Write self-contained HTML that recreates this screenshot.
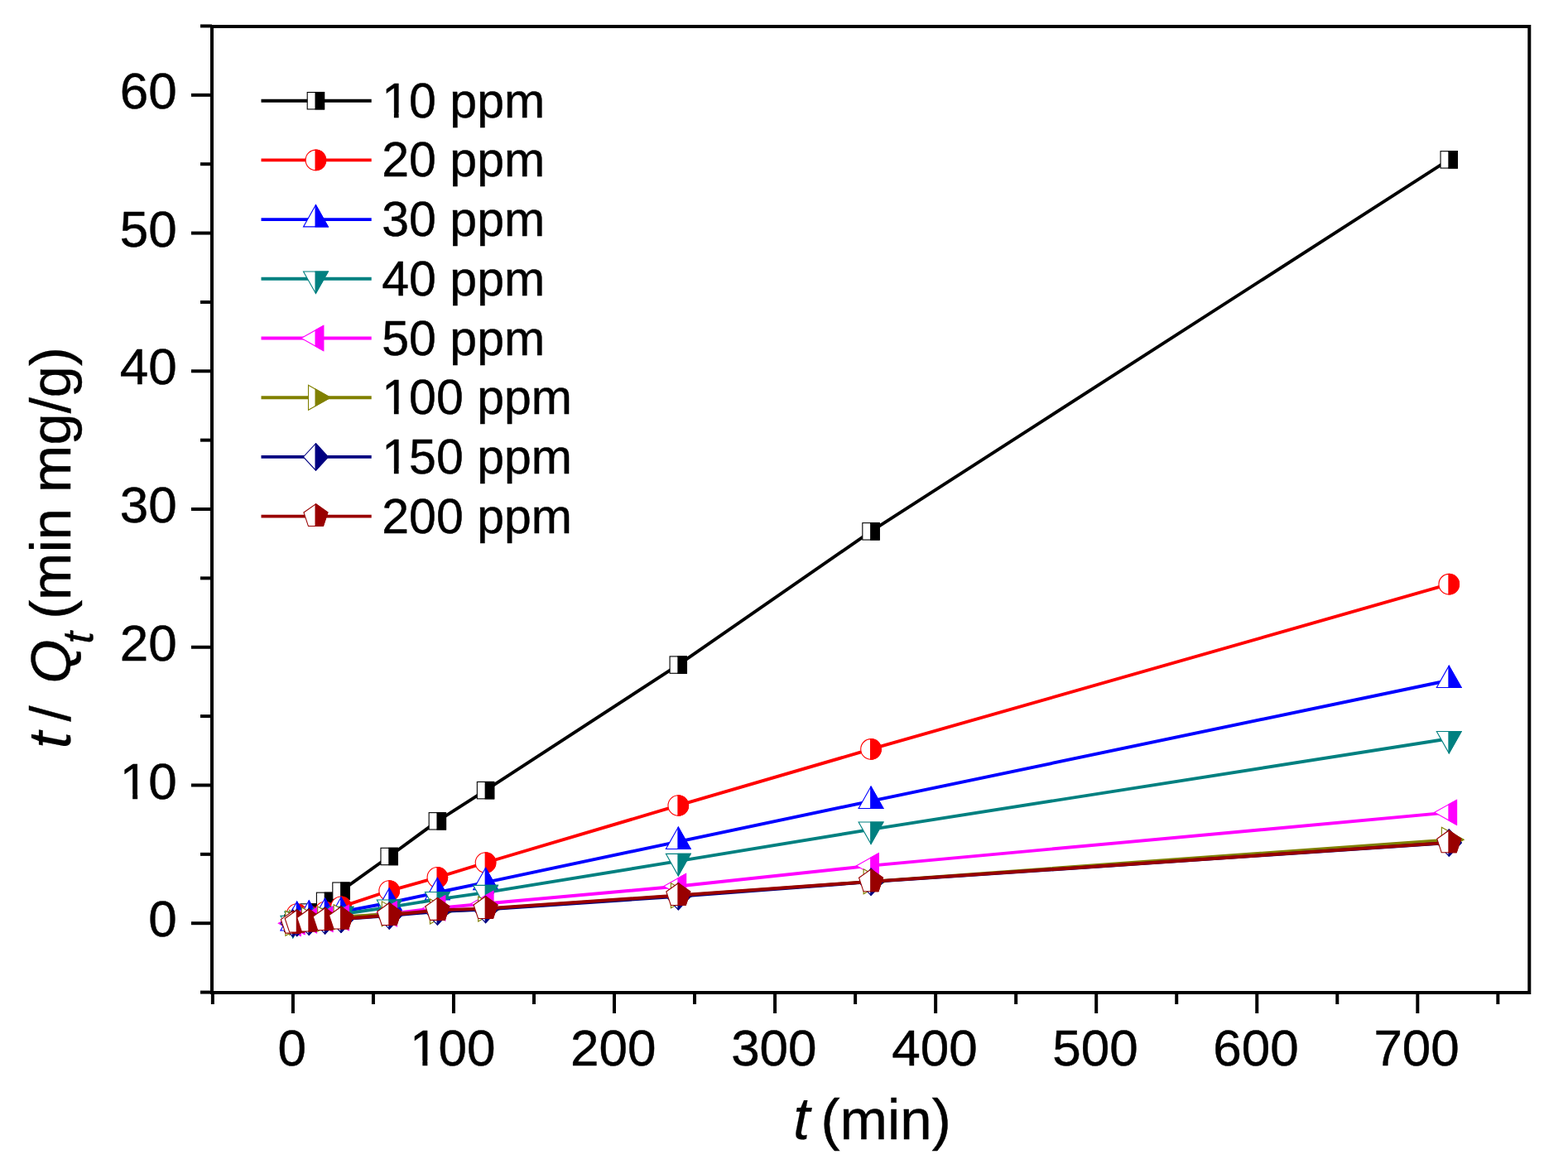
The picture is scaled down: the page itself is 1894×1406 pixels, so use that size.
<!DOCTYPE html><html><head><meta charset="utf-8"><title>t/Qt vs t</title>
<style>html,body{margin:0;padding:0;background:#fff;}svg{display:block;}text{font-family:'Liberation Sans', Arial, Helvetica, sans-serif;fill:#000;stroke:#000;stroke-width:0.45px;}</style></head><body>
<svg width="1894" height="1406" viewBox="0 0 1894 1406">
<rect width="1894" height="1406" fill="#fff"/>
<defs><clipPath id="c0"><rect x="352.9" y="1075.2" width="40" height="80"/></clipPath><clipPath id="c1"><rect x="357.75" y="1069.36" width="40" height="80"/></clipPath><clipPath id="c2"><rect x="372.3" y="1062.03" width="40" height="80"/></clipPath><clipPath id="c3"><rect x="391.69" y="1048.36" width="40" height="80"/></clipPath><clipPath id="c4"><rect x="411.09" y="1036.19" width="40" height="80"/></clipPath><clipPath id="c5"><rect x="469.27" y="994.5" width="40" height="80"/></clipPath><clipPath id="c6"><rect x="527.46" y="951.82" width="40" height="80"/></clipPath><clipPath id="c7"><rect x="585.64" y="914.64" width="40" height="80"/></clipPath><clipPath id="c8"><rect x="818.38" y="763.08" width="40" height="80"/></clipPath><clipPath id="c9"><rect x="1051.12" y="601.85" width="40" height="80"/></clipPath><clipPath id="c10"><rect x="1749.34" y="152.85" width="40" height="80"/></clipPath><clipPath id="c11"><rect x="352.9" y="1075.2" width="40" height="80"/></clipPath><clipPath id="c12"><rect x="357.75" y="1064.03" width="40" height="80"/></clipPath><clipPath id="c13"><rect x="372.3" y="1066.53" width="40" height="80"/></clipPath><clipPath id="c14"><rect x="391.69" y="1061.53" width="40" height="80"/></clipPath><clipPath id="c15"><rect x="411.09" y="1055.36" width="40" height="80"/></clipPath><clipPath id="c16"><rect x="469.27" y="1036.02" width="40" height="80"/></clipPath><clipPath id="c17"><rect x="527.46" y="1019.85" width="40" height="80"/></clipPath><clipPath id="c18"><rect x="585.64" y="1002.01" width="40" height="80"/></clipPath><clipPath id="c19"><rect x="818.38" y="932.98" width="40" height="80"/></clipPath><clipPath id="c20"><rect x="1051.12" y="864.95" width="40" height="80"/></clipPath><clipPath id="c21"><rect x="1749.34" y="665.71" width="40" height="80"/></clipPath><clipPath id="c22"><rect x="352.9" y="1075.2" width="40" height="80"/></clipPath><clipPath id="c23"><rect x="357.75" y="1066.7" width="40" height="80"/></clipPath><clipPath id="c24"><rect x="372.3" y="1065.36" width="40" height="80"/></clipPath><clipPath id="c25"><rect x="391.69" y="1062.7" width="40" height="80"/></clipPath><clipPath id="c26"><rect x="411.09" y="1061.36" width="40" height="80"/></clipPath><clipPath id="c27"><rect x="469.27" y="1050.52" width="40" height="80"/></clipPath><clipPath id="c28"><rect x="527.46" y="1038.02" width="40" height="80"/></clipPath><clipPath id="c29"><rect x="585.64" y="1025.85" width="40" height="80"/></clipPath><clipPath id="c30"><rect x="818.38" y="976.66" width="40" height="80"/></clipPath><clipPath id="c31"><rect x="1051.12" y="927.64" width="40" height="80"/></clipPath><clipPath id="c32"><rect x="1749.34" y="781.76" width="40" height="80"/></clipPath><clipPath id="c33"><rect x="352.9" y="1075.2" width="40" height="80"/></clipPath><clipPath id="c34"><rect x="357.75" y="1070.2" width="40" height="80"/></clipPath><clipPath id="c35"><rect x="372.3" y="1068.53" width="40" height="80"/></clipPath><clipPath id="c36"><rect x="391.69" y="1066.03" width="40" height="80"/></clipPath><clipPath id="c37"><rect x="411.09" y="1064.2" width="40" height="80"/></clipPath><clipPath id="c38"><rect x="469.27" y="1055.86" width="40" height="80"/></clipPath><clipPath id="c39"><rect x="527.46" y="1046.36" width="40" height="80"/></clipPath><clipPath id="c40"><rect x="585.64" y="1038.19" width="40" height="80"/></clipPath><clipPath id="c41"><rect x="818.38" y="1000.17" width="40" height="80"/></clipPath><clipPath id="c42"><rect x="1051.12" y="961.82" width="40" height="80"/></clipPath><clipPath id="c43"><rect x="1749.34" y="852.28" width="40" height="80"/></clipPath><clipPath id="c44"><rect x="352.9" y="1075.2" width="40" height="80"/></clipPath><clipPath id="c45"><rect x="357.75" y="1073.53" width="40" height="80"/></clipPath><clipPath id="c46"><rect x="372.3" y="1071.87" width="40" height="80"/></clipPath><clipPath id="c47"><rect x="391.69" y="1070.2" width="40" height="80"/></clipPath><clipPath id="c48"><rect x="411.09" y="1068.53" width="40" height="80"/></clipPath><clipPath id="c49"><rect x="469.27" y="1063.86" width="40" height="80"/></clipPath><clipPath id="c50"><rect x="527.46" y="1056.86" width="40" height="80"/></clipPath><clipPath id="c51"><rect x="585.64" y="1051.52" width="40" height="80"/></clipPath><clipPath id="c52"><rect x="818.38" y="1030.52" width="40" height="80"/></clipPath><clipPath id="c53"><rect x="1051.12" y="1005.67" width="40" height="80"/></clipPath><clipPath id="c54"><rect x="1749.34" y="941.32" width="40" height="80"/></clipPath><clipPath id="c55"><rect x="352.9" y="1075.2" width="40" height="80"/></clipPath><clipPath id="c56"><rect x="357.75" y="1074.37" width="40" height="80"/></clipPath><clipPath id="c57"><rect x="372.3" y="1071.03" width="40" height="80"/></clipPath><clipPath id="c58"><rect x="391.69" y="1070.03" width="40" height="80"/></clipPath><clipPath id="c59"><rect x="411.09" y="1067.7" width="40" height="80"/></clipPath><clipPath id="c60"><rect x="469.27" y="1063.86" width="40" height="80"/></clipPath><clipPath id="c61"><rect x="527.46" y="1061.03" width="40" height="80"/></clipPath><clipPath id="c62"><rect x="585.64" y="1058.03" width="40" height="80"/></clipPath><clipPath id="c63"><rect x="818.38" y="1041.85" width="40" height="80"/></clipPath><clipPath id="c64"><rect x="1051.12" y="1024.85" width="40" height="80"/></clipPath><clipPath id="c65"><rect x="1749.34" y="974.33" width="40" height="80"/></clipPath><clipPath id="c66"><rect x="352.9" y="1075.2" width="40" height="80"/></clipPath><clipPath id="c67"><rect x="357.75" y="1074.37" width="40" height="80"/></clipPath><clipPath id="c68"><rect x="372.3" y="1073.2" width="40" height="80"/></clipPath><clipPath id="c69"><rect x="391.69" y="1071.87" width="40" height="80"/></clipPath><clipPath id="c70"><rect x="411.09" y="1070.2" width="40" height="80"/></clipPath><clipPath id="c71"><rect x="469.27" y="1066.03" width="40" height="80"/></clipPath><clipPath id="c72"><rect x="527.46" y="1061.03" width="40" height="80"/></clipPath><clipPath id="c73"><rect x="585.64" y="1058.53" width="40" height="80"/></clipPath><clipPath id="c74"><rect x="818.38" y="1042.69" width="40" height="80"/></clipPath><clipPath id="c75"><rect x="1051.12" y="1025.18" width="40" height="80"/></clipPath><clipPath id="c76"><rect x="1749.34" y="978" width="40" height="80"/></clipPath><clipPath id="c77"><rect x="352.9" y="1075.2" width="40" height="80"/></clipPath><clipPath id="c78"><rect x="357.75" y="1074.03" width="40" height="80"/></clipPath><clipPath id="c79"><rect x="372.3" y="1073.03" width="40" height="80"/></clipPath><clipPath id="c80"><rect x="391.69" y="1071.53" width="40" height="80"/></clipPath><clipPath id="c81"><rect x="411.09" y="1070.03" width="40" height="80"/></clipPath><clipPath id="c82"><rect x="469.27" y="1065.53" width="40" height="80"/></clipPath><clipPath id="c83"><rect x="527.46" y="1059.36" width="40" height="80"/></clipPath><clipPath id="c84"><rect x="585.64" y="1057.53" width="40" height="80"/></clipPath><clipPath id="c85"><rect x="818.38" y="1041.52" width="40" height="80"/></clipPath><clipPath id="c86"><rect x="1051.12" y="1024.85" width="40" height="80"/></clipPath><clipPath id="c87"><rect x="1749.34" y="977.83" width="40" height="80"/></clipPath><clipPath id="c88"><rect x="380.5" y="81.7" width="40" height="80"/></clipPath><clipPath id="c89"><rect x="380.5" y="153.4" width="40" height="80"/></clipPath><clipPath id="c90"><rect x="380.5" y="225.1" width="40" height="80"/></clipPath><clipPath id="c91"><rect x="380.5" y="296.8" width="40" height="80"/></clipPath><clipPath id="c92"><rect x="380.5" y="368.5" width="40" height="80"/></clipPath><clipPath id="c93"><rect x="380.5" y="440.2" width="40" height="80"/></clipPath><clipPath id="c94"><rect x="380.5" y="511.9" width="40" height="80"/></clipPath><clipPath id="c95"><rect x="380.5" y="583.6" width="40" height="80"/></clipPath></defs>
<g><polyline fill="none" stroke="#000000" stroke-width="3.9" stroke-linejoin="round" points="353.8,1115.2 358.65,1109.36 373.19,1102.03 392.59,1088.36 411.99,1076.19 470.17,1034.5 528.36,991.82 586.54,954.64 819.28,803.08 1052.02,641.85 1750.24,192.85"/>
<rect x="343.6" y="1105" width="20.4" height="20.4" fill="#fff" stroke="#000000" stroke-width="1.1"/>
<g clip-path="url(#c0)"><rect x="343.6" y="1105" width="20.4" height="20.4" fill="#000000" stroke="#000000" stroke-width="1.1"/></g>
<rect x="348.45" y="1099.16" width="20.4" height="20.4" fill="#fff" stroke="#000000" stroke-width="1.1"/>
<g clip-path="url(#c1)"><rect x="348.45" y="1099.16" width="20.4" height="20.4" fill="#000000" stroke="#000000" stroke-width="1.1"/></g>
<rect x="363" y="1091.83" width="20.4" height="20.4" fill="#fff" stroke="#000000" stroke-width="1.1"/>
<g clip-path="url(#c2)"><rect x="363" y="1091.83" width="20.4" height="20.4" fill="#000000" stroke="#000000" stroke-width="1.1"/></g>
<rect x="382.39" y="1078.16" width="20.4" height="20.4" fill="#fff" stroke="#000000" stroke-width="1.1"/>
<g clip-path="url(#c3)"><rect x="382.39" y="1078.16" width="20.4" height="20.4" fill="#000000" stroke="#000000" stroke-width="1.1"/></g>
<rect x="401.79" y="1065.99" width="20.4" height="20.4" fill="#fff" stroke="#000000" stroke-width="1.1"/>
<g clip-path="url(#c4)"><rect x="401.79" y="1065.99" width="20.4" height="20.4" fill="#000000" stroke="#000000" stroke-width="1.1"/></g>
<rect x="459.97" y="1024.3" width="20.4" height="20.4" fill="#fff" stroke="#000000" stroke-width="1.1"/>
<g clip-path="url(#c5)"><rect x="459.97" y="1024.3" width="20.4" height="20.4" fill="#000000" stroke="#000000" stroke-width="1.1"/></g>
<rect x="518.15" y="981.62" width="20.4" height="20.4" fill="#fff" stroke="#000000" stroke-width="1.1"/>
<g clip-path="url(#c6)"><rect x="518.15" y="981.62" width="20.4" height="20.4" fill="#000000" stroke="#000000" stroke-width="1.1"/></g>
<rect x="576.34" y="944.44" width="20.4" height="20.4" fill="#fff" stroke="#000000" stroke-width="1.1"/>
<g clip-path="url(#c7)"><rect x="576.34" y="944.44" width="20.4" height="20.4" fill="#000000" stroke="#000000" stroke-width="1.1"/></g>
<rect x="809.08" y="792.88" width="20.4" height="20.4" fill="#fff" stroke="#000000" stroke-width="1.1"/>
<g clip-path="url(#c8)"><rect x="809.08" y="792.88" width="20.4" height="20.4" fill="#000000" stroke="#000000" stroke-width="1.1"/></g>
<rect x="1041.82" y="631.65" width="20.4" height="20.4" fill="#fff" stroke="#000000" stroke-width="1.1"/>
<g clip-path="url(#c9)"><rect x="1041.82" y="631.65" width="20.4" height="20.4" fill="#000000" stroke="#000000" stroke-width="1.1"/></g>
<rect x="1740.04" y="182.65" width="20.4" height="20.4" fill="#fff" stroke="#000000" stroke-width="1.1"/>
<g clip-path="url(#c10)"><rect x="1740.04" y="182.65" width="20.4" height="20.4" fill="#000000" stroke="#000000" stroke-width="1.1"/></g>
<polyline fill="none" stroke="#FF0000" stroke-width="3.9" stroke-linejoin="round" points="353.8,1115.2 358.65,1104.03 373.19,1106.53 392.59,1101.53 411.99,1095.36 470.17,1076.02 528.36,1059.85 586.54,1042.01 819.28,972.98 1052.02,904.95 1750.24,705.71"/>
<circle cx="353.8" cy="1115.2" r="12.3" fill="#fff" stroke="#FF0000" stroke-width="1.1"/>
<g clip-path="url(#c11)"><circle cx="353.8" cy="1115.2" r="12.3" fill="#FF0000" stroke="#FF0000" stroke-width="1.1"/></g>
<circle cx="358.65" cy="1104.03" r="12.3" fill="#fff" stroke="#FF0000" stroke-width="1.1"/>
<g clip-path="url(#c12)"><circle cx="358.65" cy="1104.03" r="12.3" fill="#FF0000" stroke="#FF0000" stroke-width="1.1"/></g>
<circle cx="373.19" cy="1106.53" r="12.3" fill="#fff" stroke="#FF0000" stroke-width="1.1"/>
<g clip-path="url(#c13)"><circle cx="373.19" cy="1106.53" r="12.3" fill="#FF0000" stroke="#FF0000" stroke-width="1.1"/></g>
<circle cx="392.59" cy="1101.53" r="12.3" fill="#fff" stroke="#FF0000" stroke-width="1.1"/>
<g clip-path="url(#c14)"><circle cx="392.59" cy="1101.53" r="12.3" fill="#FF0000" stroke="#FF0000" stroke-width="1.1"/></g>
<circle cx="411.99" cy="1095.36" r="12.3" fill="#fff" stroke="#FF0000" stroke-width="1.1"/>
<g clip-path="url(#c15)"><circle cx="411.99" cy="1095.36" r="12.3" fill="#FF0000" stroke="#FF0000" stroke-width="1.1"/></g>
<circle cx="470.17" cy="1076.02" r="12.3" fill="#fff" stroke="#FF0000" stroke-width="1.1"/>
<g clip-path="url(#c16)"><circle cx="470.17" cy="1076.02" r="12.3" fill="#FF0000" stroke="#FF0000" stroke-width="1.1"/></g>
<circle cx="528.36" cy="1059.85" r="12.3" fill="#fff" stroke="#FF0000" stroke-width="1.1"/>
<g clip-path="url(#c17)"><circle cx="528.36" cy="1059.85" r="12.3" fill="#FF0000" stroke="#FF0000" stroke-width="1.1"/></g>
<circle cx="586.54" cy="1042.01" r="12.3" fill="#fff" stroke="#FF0000" stroke-width="1.1"/>
<g clip-path="url(#c18)"><circle cx="586.54" cy="1042.01" r="12.3" fill="#FF0000" stroke="#FF0000" stroke-width="1.1"/></g>
<circle cx="819.28" cy="972.98" r="12.3" fill="#fff" stroke="#FF0000" stroke-width="1.1"/>
<g clip-path="url(#c19)"><circle cx="819.28" cy="972.98" r="12.3" fill="#FF0000" stroke="#FF0000" stroke-width="1.1"/></g>
<circle cx="1052.02" cy="904.95" r="12.3" fill="#fff" stroke="#FF0000" stroke-width="1.1"/>
<g clip-path="url(#c20)"><circle cx="1052.02" cy="904.95" r="12.3" fill="#FF0000" stroke="#FF0000" stroke-width="1.1"/></g>
<circle cx="1750.24" cy="705.71" r="12.3" fill="#fff" stroke="#FF0000" stroke-width="1.1"/>
<g clip-path="url(#c21)"><circle cx="1750.24" cy="705.71" r="12.3" fill="#FF0000" stroke="#FF0000" stroke-width="1.1"/></g>
<polyline fill="none" stroke="#0000FF" stroke-width="3.9" stroke-linejoin="round" points="353.8,1115.2 358.65,1106.7 373.19,1105.36 392.59,1102.7 411.99,1101.36 470.17,1090.52 528.36,1078.02 586.54,1065.85 819.28,1016.66 1052.02,967.64 1750.24,821.76"/>
<polygon points="353.8,1097.6 368.7,1124 338.9,1124" fill="#fff" stroke="#0000FF" stroke-width="1.1"/>
<g clip-path="url(#c22)"><polygon points="353.8,1097.6 368.7,1124 338.9,1124" fill="#0000FF" stroke="#0000FF" stroke-width="1.1"/></g>
<polygon points="358.65,1089.1 373.55,1115.5 343.75,1115.5" fill="#fff" stroke="#0000FF" stroke-width="1.1"/>
<g clip-path="url(#c23)"><polygon points="358.65,1089.1 373.55,1115.5 343.75,1115.5" fill="#0000FF" stroke="#0000FF" stroke-width="1.1"/></g>
<polygon points="373.19,1087.76 388.09,1114.16 358.3,1114.16" fill="#fff" stroke="#0000FF" stroke-width="1.1"/>
<g clip-path="url(#c24)"><polygon points="373.19,1087.76 388.09,1114.16 358.3,1114.16" fill="#0000FF" stroke="#0000FF" stroke-width="1.1"/></g>
<polygon points="392.59,1085.1 407.49,1111.5 377.69,1111.5" fill="#fff" stroke="#0000FF" stroke-width="1.1"/>
<g clip-path="url(#c25)"><polygon points="392.59,1085.1 407.49,1111.5 377.69,1111.5" fill="#0000FF" stroke="#0000FF" stroke-width="1.1"/></g>
<polygon points="411.99,1083.76 426.88,1110.16 397.09,1110.16" fill="#fff" stroke="#0000FF" stroke-width="1.1"/>
<g clip-path="url(#c26)"><polygon points="411.99,1083.76 426.88,1110.16 397.09,1110.16" fill="#0000FF" stroke="#0000FF" stroke-width="1.1"/></g>
<polygon points="470.17,1072.92 485.07,1099.32 455.27,1099.32" fill="#fff" stroke="#0000FF" stroke-width="1.1"/>
<g clip-path="url(#c27)"><polygon points="470.17,1072.92 485.07,1099.32 455.27,1099.32" fill="#0000FF" stroke="#0000FF" stroke-width="1.1"/></g>
<polygon points="528.36,1060.42 543.25,1086.82 513.46,1086.82" fill="#fff" stroke="#0000FF" stroke-width="1.1"/>
<g clip-path="url(#c28)"><polygon points="528.36,1060.42 543.25,1086.82 513.46,1086.82" fill="#0000FF" stroke="#0000FF" stroke-width="1.1"/></g>
<polygon points="586.54,1048.25 601.44,1074.65 571.64,1074.65" fill="#fff" stroke="#0000FF" stroke-width="1.1"/>
<g clip-path="url(#c29)"><polygon points="586.54,1048.25 601.44,1074.65 571.64,1074.65" fill="#0000FF" stroke="#0000FF" stroke-width="1.1"/></g>
<polygon points="819.28,999.06 834.18,1025.46 804.38,1025.46" fill="#fff" stroke="#0000FF" stroke-width="1.1"/>
<g clip-path="url(#c30)"><polygon points="819.28,999.06 834.18,1025.46 804.38,1025.46" fill="#0000FF" stroke="#0000FF" stroke-width="1.1"/></g>
<polygon points="1052.02,950.04 1066.92,976.44 1037.12,976.44" fill="#fff" stroke="#0000FF" stroke-width="1.1"/>
<g clip-path="url(#c31)"><polygon points="1052.02,950.04 1066.92,976.44 1037.12,976.44" fill="#0000FF" stroke="#0000FF" stroke-width="1.1"/></g>
<polygon points="1750.24,804.16 1765.14,830.56 1735.34,830.56" fill="#fff" stroke="#0000FF" stroke-width="1.1"/>
<g clip-path="url(#c32)"><polygon points="1750.24,804.16 1765.14,830.56 1735.34,830.56" fill="#0000FF" stroke="#0000FF" stroke-width="1.1"/></g>
<polyline fill="none" stroke="#008080" stroke-width="3.9" stroke-linejoin="round" points="353.8,1115.2 358.65,1110.2 373.19,1108.53 392.59,1106.03 411.99,1104.2 470.17,1095.86 528.36,1086.36 586.54,1078.19 819.28,1040.17 1052.02,1001.82 1750.24,892.28"/>
<polygon points="338.9,1106.4 368.7,1106.4 353.8,1132.8" fill="#fff" stroke="#008080" stroke-width="1.1"/>
<g clip-path="url(#c33)"><polygon points="338.9,1106.4 368.7,1106.4 353.8,1132.8" fill="#008080" stroke="#008080" stroke-width="1.1"/></g>
<polygon points="343.75,1101.4 373.55,1101.4 358.65,1127.8" fill="#fff" stroke="#008080" stroke-width="1.1"/>
<g clip-path="url(#c34)"><polygon points="343.75,1101.4 373.55,1101.4 358.65,1127.8" fill="#008080" stroke="#008080" stroke-width="1.1"/></g>
<polygon points="358.3,1099.73 388.09,1099.73 373.19,1126.13" fill="#fff" stroke="#008080" stroke-width="1.1"/>
<g clip-path="url(#c35)"><polygon points="358.3,1099.73 388.09,1099.73 373.19,1126.13" fill="#008080" stroke="#008080" stroke-width="1.1"/></g>
<polygon points="377.69,1097.23 407.49,1097.23 392.59,1123.63" fill="#fff" stroke="#008080" stroke-width="1.1"/>
<g clip-path="url(#c36)"><polygon points="377.69,1097.23 407.49,1097.23 392.59,1123.63" fill="#008080" stroke="#008080" stroke-width="1.1"/></g>
<polygon points="397.09,1095.4 426.88,1095.4 411.99,1121.8" fill="#fff" stroke="#008080" stroke-width="1.1"/>
<g clip-path="url(#c37)"><polygon points="397.09,1095.4 426.88,1095.4 411.99,1121.8" fill="#008080" stroke="#008080" stroke-width="1.1"/></g>
<polygon points="455.27,1087.06 485.07,1087.06 470.17,1113.46" fill="#fff" stroke="#008080" stroke-width="1.1"/>
<g clip-path="url(#c38)"><polygon points="455.27,1087.06 485.07,1087.06 470.17,1113.46" fill="#008080" stroke="#008080" stroke-width="1.1"/></g>
<polygon points="513.46,1077.56 543.25,1077.56 528.36,1103.96" fill="#fff" stroke="#008080" stroke-width="1.1"/>
<g clip-path="url(#c39)"><polygon points="513.46,1077.56 543.25,1077.56 528.36,1103.96" fill="#008080" stroke="#008080" stroke-width="1.1"/></g>
<polygon points="571.64,1069.39 601.44,1069.39 586.54,1095.79" fill="#fff" stroke="#008080" stroke-width="1.1"/>
<g clip-path="url(#c40)"><polygon points="571.64,1069.39 601.44,1069.39 586.54,1095.79" fill="#008080" stroke="#008080" stroke-width="1.1"/></g>
<polygon points="804.38,1031.37 834.18,1031.37 819.28,1057.77" fill="#fff" stroke="#008080" stroke-width="1.1"/>
<g clip-path="url(#c41)"><polygon points="804.38,1031.37 834.18,1031.37 819.28,1057.77" fill="#008080" stroke="#008080" stroke-width="1.1"/></g>
<polygon points="1037.12,993.02 1066.92,993.02 1052.02,1019.42" fill="#fff" stroke="#008080" stroke-width="1.1"/>
<g clip-path="url(#c42)"><polygon points="1037.12,993.02 1066.92,993.02 1052.02,1019.42" fill="#008080" stroke="#008080" stroke-width="1.1"/></g>
<polygon points="1735.34,883.48 1765.14,883.48 1750.24,909.88" fill="#fff" stroke="#008080" stroke-width="1.1"/>
<g clip-path="url(#c43)"><polygon points="1735.34,883.48 1765.14,883.48 1750.24,909.88" fill="#008080" stroke="#008080" stroke-width="1.1"/></g>
<polyline fill="none" stroke="#FF00FF" stroke-width="3.9" stroke-linejoin="round" points="353.8,1115.2 358.65,1113.53 373.19,1111.87 392.59,1110.2 411.99,1108.53 470.17,1103.86 528.36,1096.86 586.54,1091.52 819.28,1070.52 1052.02,1045.67 1750.24,981.32"/>
<polygon points="336.3,1115.2 363.1,1100.2 363.1,1130.2" fill="#fff" stroke="#FF00FF" stroke-width="1.1"/>
<g clip-path="url(#c44)"><polygon points="336.3,1115.2 363.1,1100.2 363.1,1130.2" fill="#FF00FF" stroke="#FF00FF" stroke-width="1.1"/></g>
<polygon points="341.15,1113.53 367.95,1098.53 367.95,1128.53" fill="#fff" stroke="#FF00FF" stroke-width="1.1"/>
<g clip-path="url(#c45)"><polygon points="341.15,1113.53 367.95,1098.53 367.95,1128.53" fill="#FF00FF" stroke="#FF00FF" stroke-width="1.1"/></g>
<polygon points="355.69,1111.87 382.5,1096.87 382.5,1126.87" fill="#fff" stroke="#FF00FF" stroke-width="1.1"/>
<g clip-path="url(#c46)"><polygon points="355.69,1111.87 382.5,1096.87 382.5,1126.87" fill="#FF00FF" stroke="#FF00FF" stroke-width="1.1"/></g>
<polygon points="375.09,1110.2 401.89,1095.2 401.89,1125.2" fill="#fff" stroke="#FF00FF" stroke-width="1.1"/>
<g clip-path="url(#c47)"><polygon points="375.09,1110.2 401.89,1095.2 401.89,1125.2" fill="#FF00FF" stroke="#FF00FF" stroke-width="1.1"/></g>
<polygon points="394.49,1108.53 421.29,1093.53 421.29,1123.53" fill="#fff" stroke="#FF00FF" stroke-width="1.1"/>
<g clip-path="url(#c48)"><polygon points="394.49,1108.53 421.29,1093.53 421.29,1123.53" fill="#FF00FF" stroke="#FF00FF" stroke-width="1.1"/></g>
<polygon points="452.67,1103.86 479.47,1088.86 479.47,1118.86" fill="#fff" stroke="#FF00FF" stroke-width="1.1"/>
<g clip-path="url(#c49)"><polygon points="452.67,1103.86 479.47,1088.86 479.47,1118.86" fill="#FF00FF" stroke="#FF00FF" stroke-width="1.1"/></g>
<polygon points="510.86,1096.86 537.65,1081.86 537.65,1111.86" fill="#fff" stroke="#FF00FF" stroke-width="1.1"/>
<g clip-path="url(#c50)"><polygon points="510.86,1096.86 537.65,1081.86 537.65,1111.86" fill="#FF00FF" stroke="#FF00FF" stroke-width="1.1"/></g>
<polygon points="569.04,1091.52 595.84,1076.52 595.84,1106.52" fill="#fff" stroke="#FF00FF" stroke-width="1.1"/>
<g clip-path="url(#c51)"><polygon points="569.04,1091.52 595.84,1076.52 595.84,1106.52" fill="#FF00FF" stroke="#FF00FF" stroke-width="1.1"/></g>
<polygon points="801.78,1070.52 828.58,1055.52 828.58,1085.52" fill="#fff" stroke="#FF00FF" stroke-width="1.1"/>
<g clip-path="url(#c52)"><polygon points="801.78,1070.52 828.58,1055.52 828.58,1085.52" fill="#FF00FF" stroke="#FF00FF" stroke-width="1.1"/></g>
<polygon points="1034.52,1045.67 1061.32,1030.67 1061.32,1060.67" fill="#fff" stroke="#FF00FF" stroke-width="1.1"/>
<g clip-path="url(#c53)"><polygon points="1034.52,1045.67 1061.32,1030.67 1061.32,1060.67" fill="#FF00FF" stroke="#FF00FF" stroke-width="1.1"/></g>
<polygon points="1732.74,981.32 1759.54,966.32 1759.54,996.32" fill="#fff" stroke="#FF00FF" stroke-width="1.1"/>
<g clip-path="url(#c54)"><polygon points="1732.74,981.32 1759.54,966.32 1759.54,996.32" fill="#FF00FF" stroke="#FF00FF" stroke-width="1.1"/></g>
<polyline fill="none" stroke="#808000" stroke-width="3.9" stroke-linejoin="round" points="353.8,1115.2 358.65,1114.37 373.19,1111.03 392.59,1110.03 411.99,1107.7 470.17,1103.86 528.36,1101.03 586.54,1098.03 819.28,1081.85 1052.02,1064.85 1750.24,1014.33"/>
<polygon points="344.9,1100.2 371.5,1115.2 344.9,1130.2" fill="#fff" stroke="#808000" stroke-width="1.1"/>
<g clip-path="url(#c55)"><polygon points="344.9,1100.2 371.5,1115.2 344.9,1130.2" fill="#808000" stroke="#808000" stroke-width="1.1"/></g>
<polygon points="349.75,1099.37 376.35,1114.37 349.75,1129.37" fill="#fff" stroke="#808000" stroke-width="1.1"/>
<g clip-path="url(#c56)"><polygon points="349.75,1099.37 376.35,1114.37 349.75,1129.37" fill="#808000" stroke="#808000" stroke-width="1.1"/></g>
<polygon points="364.3,1096.03 390.89,1111.03 364.3,1126.03" fill="#fff" stroke="#808000" stroke-width="1.1"/>
<g clip-path="url(#c57)"><polygon points="364.3,1096.03 390.89,1111.03 364.3,1126.03" fill="#808000" stroke="#808000" stroke-width="1.1"/></g>
<polygon points="383.69,1095.03 410.29,1110.03 383.69,1125.03" fill="#fff" stroke="#808000" stroke-width="1.1"/>
<g clip-path="url(#c58)"><polygon points="383.69,1095.03 410.29,1110.03 383.69,1125.03" fill="#808000" stroke="#808000" stroke-width="1.1"/></g>
<polygon points="403.09,1092.7 429.69,1107.7 403.09,1122.7" fill="#fff" stroke="#808000" stroke-width="1.1"/>
<g clip-path="url(#c59)"><polygon points="403.09,1092.7 429.69,1107.7 403.09,1122.7" fill="#808000" stroke="#808000" stroke-width="1.1"/></g>
<polygon points="461.27,1088.86 487.87,1103.86 461.27,1118.86" fill="#fff" stroke="#808000" stroke-width="1.1"/>
<g clip-path="url(#c60)"><polygon points="461.27,1088.86 487.87,1103.86 461.27,1118.86" fill="#808000" stroke="#808000" stroke-width="1.1"/></g>
<polygon points="519.46,1086.03 546.06,1101.03 519.46,1116.03" fill="#fff" stroke="#808000" stroke-width="1.1"/>
<g clip-path="url(#c61)"><polygon points="519.46,1086.03 546.06,1101.03 519.46,1116.03" fill="#808000" stroke="#808000" stroke-width="1.1"/></g>
<polygon points="577.64,1083.03 604.24,1098.03 577.64,1113.03" fill="#fff" stroke="#808000" stroke-width="1.1"/>
<g clip-path="url(#c62)"><polygon points="577.64,1083.03 604.24,1098.03 577.64,1113.03" fill="#808000" stroke="#808000" stroke-width="1.1"/></g>
<polygon points="810.38,1066.85 836.98,1081.85 810.38,1096.85" fill="#fff" stroke="#808000" stroke-width="1.1"/>
<g clip-path="url(#c63)"><polygon points="810.38,1066.85 836.98,1081.85 810.38,1096.85" fill="#808000" stroke="#808000" stroke-width="1.1"/></g>
<polygon points="1043.12,1049.85 1069.72,1064.85 1043.12,1079.85" fill="#fff" stroke="#808000" stroke-width="1.1"/>
<g clip-path="url(#c64)"><polygon points="1043.12,1049.85 1069.72,1064.85 1043.12,1079.85" fill="#808000" stroke="#808000" stroke-width="1.1"/></g>
<polygon points="1741.34,999.33 1767.94,1014.33 1741.34,1029.33" fill="#fff" stroke="#808000" stroke-width="1.1"/>
<g clip-path="url(#c65)"><polygon points="1741.34,999.33 1767.94,1014.33 1741.34,1029.33" fill="#808000" stroke="#808000" stroke-width="1.1"/></g>
<polyline fill="none" stroke="#000080" stroke-width="3.9" stroke-linejoin="round" points="353.8,1115.2 358.65,1114.37 373.19,1113.2 392.59,1111.87 411.99,1110.2 470.17,1106.03 528.36,1101.03 586.54,1098.53 819.28,1082.69 1052.02,1065.18 1750.24,1018"/>
<polygon points="353.8,1099 368.8,1115.2 353.8,1131.4 338.8,1115.2" fill="#fff" stroke="#000080" stroke-width="1.1"/>
<g clip-path="url(#c66)"><polygon points="353.8,1099 368.8,1115.2 353.8,1131.4 338.8,1115.2" fill="#000080" stroke="#000080" stroke-width="1.1"/></g>
<polygon points="358.65,1098.17 373.65,1114.37 358.65,1130.57 343.65,1114.37" fill="#fff" stroke="#000080" stroke-width="1.1"/>
<g clip-path="url(#c67)"><polygon points="358.65,1098.17 373.65,1114.37 358.65,1130.57 343.65,1114.37" fill="#000080" stroke="#000080" stroke-width="1.1"/></g>
<polygon points="373.19,1097 388.19,1113.2 373.19,1129.4 358.19,1113.2" fill="#fff" stroke="#000080" stroke-width="1.1"/>
<g clip-path="url(#c68)"><polygon points="373.19,1097 388.19,1113.2 373.19,1129.4 358.19,1113.2" fill="#000080" stroke="#000080" stroke-width="1.1"/></g>
<polygon points="392.59,1095.67 407.59,1111.87 392.59,1128.07 377.59,1111.87" fill="#fff" stroke="#000080" stroke-width="1.1"/>
<g clip-path="url(#c69)"><polygon points="392.59,1095.67 407.59,1111.87 392.59,1128.07 377.59,1111.87" fill="#000080" stroke="#000080" stroke-width="1.1"/></g>
<polygon points="411.99,1094 426.99,1110.2 411.99,1126.4 396.99,1110.2" fill="#fff" stroke="#000080" stroke-width="1.1"/>
<g clip-path="url(#c70)"><polygon points="411.99,1094 426.99,1110.2 411.99,1126.4 396.99,1110.2" fill="#000080" stroke="#000080" stroke-width="1.1"/></g>
<polygon points="470.17,1089.83 485.17,1106.03 470.17,1122.23 455.17,1106.03" fill="#fff" stroke="#000080" stroke-width="1.1"/>
<g clip-path="url(#c71)"><polygon points="470.17,1089.83 485.17,1106.03 470.17,1122.23 455.17,1106.03" fill="#000080" stroke="#000080" stroke-width="1.1"/></g>
<polygon points="528.36,1084.83 543.36,1101.03 528.36,1117.23 513.36,1101.03" fill="#fff" stroke="#000080" stroke-width="1.1"/>
<g clip-path="url(#c72)"><polygon points="528.36,1084.83 543.36,1101.03 528.36,1117.23 513.36,1101.03" fill="#000080" stroke="#000080" stroke-width="1.1"/></g>
<polygon points="586.54,1082.33 601.54,1098.53 586.54,1114.73 571.54,1098.53" fill="#fff" stroke="#000080" stroke-width="1.1"/>
<g clip-path="url(#c73)"><polygon points="586.54,1082.33 601.54,1098.53 586.54,1114.73 571.54,1098.53" fill="#000080" stroke="#000080" stroke-width="1.1"/></g>
<polygon points="819.28,1066.49 834.28,1082.69 819.28,1098.89 804.28,1082.69" fill="#fff" stroke="#000080" stroke-width="1.1"/>
<g clip-path="url(#c74)"><polygon points="819.28,1066.49 834.28,1082.69 819.28,1098.89 804.28,1082.69" fill="#000080" stroke="#000080" stroke-width="1.1"/></g>
<polygon points="1052.02,1048.98 1067.02,1065.18 1052.02,1081.38 1037.02,1065.18" fill="#fff" stroke="#000080" stroke-width="1.1"/>
<g clip-path="url(#c75)"><polygon points="1052.02,1048.98 1067.02,1065.18 1052.02,1081.38 1037.02,1065.18" fill="#000080" stroke="#000080" stroke-width="1.1"/></g>
<polygon points="1750.24,1001.8 1765.24,1018 1750.24,1034.2 1735.24,1018" fill="#fff" stroke="#000080" stroke-width="1.1"/>
<g clip-path="url(#c76)"><polygon points="1750.24,1001.8 1765.24,1018 1750.24,1034.2 1735.24,1018" fill="#000080" stroke="#000080" stroke-width="1.1"/></g>
<polyline fill="none" stroke="#990000" stroke-width="3.9" stroke-linejoin="round" points="353.8,1115.2 358.65,1114.03 373.19,1113.03 392.59,1111.53 411.99,1110.03 470.17,1105.53 528.36,1099.36 586.54,1097.53 819.28,1081.52 1052.02,1064.85 1750.24,1017.83"/>
<polygon points="353.8,1100.4 368.3,1110.63 362.76,1127.17 344.84,1127.17 339.3,1110.63" fill="#fff" stroke="#990000" stroke-width="1.1"/>
<g clip-path="url(#c77)"><polygon points="353.8,1100.4 368.3,1110.63 362.76,1127.17 344.84,1127.17 339.3,1110.63" fill="#990000" stroke="#990000" stroke-width="1.1"/></g>
<polygon points="358.65,1099.23 373.15,1109.46 367.61,1126.01 349.69,1126.01 344.15,1109.46" fill="#fff" stroke="#990000" stroke-width="1.1"/>
<g clip-path="url(#c78)"><polygon points="358.65,1099.23 373.15,1109.46 367.61,1126.01 349.69,1126.01 344.15,1109.46" fill="#990000" stroke="#990000" stroke-width="1.1"/></g>
<polygon points="373.19,1098.23 387.69,1108.46 382.16,1125.01 364.23,1125.01 358.7,1108.46" fill="#fff" stroke="#990000" stroke-width="1.1"/>
<g clip-path="url(#c79)"><polygon points="373.19,1098.23 387.69,1108.46 382.16,1125.01 364.23,1125.01 358.7,1108.46" fill="#990000" stroke="#990000" stroke-width="1.1"/></g>
<polygon points="392.59,1096.73 407.09,1106.96 401.55,1123.51 383.63,1123.51 378.09,1106.96" fill="#fff" stroke="#990000" stroke-width="1.1"/>
<g clip-path="url(#c80)"><polygon points="392.59,1096.73 407.09,1106.96 401.55,1123.51 383.63,1123.51 378.09,1106.96" fill="#990000" stroke="#990000" stroke-width="1.1"/></g>
<polygon points="411.99,1095.23 426.48,1105.46 420.95,1122 403.02,1122 397.49,1105.46" fill="#fff" stroke="#990000" stroke-width="1.1"/>
<g clip-path="url(#c81)"><polygon points="411.99,1095.23 426.48,1105.46 420.95,1122 403.02,1122 397.49,1105.46" fill="#990000" stroke="#990000" stroke-width="1.1"/></g>
<polygon points="470.17,1090.73 484.67,1100.96 479.13,1117.5 461.21,1117.5 455.67,1100.96" fill="#fff" stroke="#990000" stroke-width="1.1"/>
<g clip-path="url(#c82)"><polygon points="470.17,1090.73 484.67,1100.96 479.13,1117.5 461.21,1117.5 455.67,1100.96" fill="#990000" stroke="#990000" stroke-width="1.1"/></g>
<polygon points="528.36,1084.56 542.85,1094.79 537.32,1111.33 519.39,1111.33 513.86,1094.79" fill="#fff" stroke="#990000" stroke-width="1.1"/>
<g clip-path="url(#c83)"><polygon points="528.36,1084.56 542.85,1094.79 537.32,1111.33 519.39,1111.33 513.86,1094.79" fill="#990000" stroke="#990000" stroke-width="1.1"/></g>
<polygon points="586.54,1082.73 601.04,1092.95 595.5,1109.5 577.58,1109.5 572.04,1092.95" fill="#fff" stroke="#990000" stroke-width="1.1"/>
<g clip-path="url(#c84)"><polygon points="586.54,1082.73 601.04,1092.95 595.5,1109.5 577.58,1109.5 572.04,1092.95" fill="#990000" stroke="#990000" stroke-width="1.1"/></g>
<polygon points="819.28,1066.72 833.78,1076.95 828.24,1093.49 810.32,1093.49 804.78,1076.95" fill="#fff" stroke="#990000" stroke-width="1.1"/>
<g clip-path="url(#c85)"><polygon points="819.28,1066.72 833.78,1076.95 828.24,1093.49 810.32,1093.49 804.78,1076.95" fill="#990000" stroke="#990000" stroke-width="1.1"/></g>
<polygon points="1052.02,1050.05 1066.52,1060.27 1060.98,1076.82 1043.06,1076.82 1037.52,1060.27" fill="#fff" stroke="#990000" stroke-width="1.1"/>
<g clip-path="url(#c86)"><polygon points="1052.02,1050.05 1066.52,1060.27 1060.98,1076.82 1043.06,1076.82 1037.52,1060.27" fill="#990000" stroke="#990000" stroke-width="1.1"/></g>
<polygon points="1750.24,1003.03 1764.74,1013.26 1759.2,1029.8 1741.28,1029.8 1735.74,1013.26" fill="#fff" stroke="#990000" stroke-width="1.1"/>
<g clip-path="url(#c87)"><polygon points="1750.24,1003.03 1764.74,1013.26 1759.2,1029.8 1741.28,1029.8 1735.74,1013.26" fill="#990000" stroke="#990000" stroke-width="1.1"/></g>
<line x1="315.5" y1="121.7" x2="448.7" y2="121.7" stroke="#000000" stroke-width="3.9"/>
<rect x="371.2" y="111.5" width="20.4" height="20.4" fill="#fff" stroke="#000000" stroke-width="1.1"/>
<g clip-path="url(#c88)"><rect x="371.2" y="111.5" width="20.4" height="20.4" fill="#000000" stroke="#000000" stroke-width="1.1"/></g>
<text x="461.3" y="141.7" font-size="59">10 ppm</text>
<line x1="315.5" y1="193.4" x2="448.7" y2="193.4" stroke="#FF0000" stroke-width="3.9"/>
<circle cx="381.4" cy="193.4" r="12.3" fill="#fff" stroke="#FF0000" stroke-width="1.1"/>
<g clip-path="url(#c89)"><circle cx="381.4" cy="193.4" r="12.3" fill="#FF0000" stroke="#FF0000" stroke-width="1.1"/></g>
<text x="461.3" y="213.4" font-size="59">20 ppm</text>
<line x1="315.5" y1="265.1" x2="448.7" y2="265.1" stroke="#0000FF" stroke-width="3.9"/>
<polygon points="381.4,247.5 396.3,273.9 366.5,273.9" fill="#fff" stroke="#0000FF" stroke-width="1.1"/>
<g clip-path="url(#c90)"><polygon points="381.4,247.5 396.3,273.9 366.5,273.9" fill="#0000FF" stroke="#0000FF" stroke-width="1.1"/></g>
<text x="461.3" y="285.1" font-size="59">30 ppm</text>
<line x1="315.5" y1="336.8" x2="448.7" y2="336.8" stroke="#008080" stroke-width="3.9"/>
<polygon points="366.5,328 396.3,328 381.4,354.4" fill="#fff" stroke="#008080" stroke-width="1.1"/>
<g clip-path="url(#c91)"><polygon points="366.5,328 396.3,328 381.4,354.4" fill="#008080" stroke="#008080" stroke-width="1.1"/></g>
<text x="461.3" y="356.8" font-size="59">40 ppm</text>
<line x1="315.5" y1="408.5" x2="448.7" y2="408.5" stroke="#FF00FF" stroke-width="3.9"/>
<polygon points="363.9,408.5 390.7,393.5 390.7,423.5" fill="#fff" stroke="#FF00FF" stroke-width="1.1"/>
<g clip-path="url(#c92)"><polygon points="363.9,408.5 390.7,393.5 390.7,423.5" fill="#FF00FF" stroke="#FF00FF" stroke-width="1.1"/></g>
<text x="461.3" y="428.5" font-size="59">50 ppm</text>
<line x1="315.5" y1="480.2" x2="448.7" y2="480.2" stroke="#808000" stroke-width="3.9"/>
<polygon points="372.5,465.2 399.1,480.2 372.5,495.2" fill="#fff" stroke="#808000" stroke-width="1.1"/>
<g clip-path="url(#c93)"><polygon points="372.5,465.2 399.1,480.2 372.5,495.2" fill="#808000" stroke="#808000" stroke-width="1.1"/></g>
<text x="461.3" y="500.2" font-size="59">100 ppm</text>
<line x1="315.5" y1="551.9" x2="448.7" y2="551.9" stroke="#000080" stroke-width="3.9"/>
<polygon points="381.4,535.7 396.4,551.9 381.4,568.1 366.4,551.9" fill="#fff" stroke="#000080" stroke-width="1.1"/>
<g clip-path="url(#c94)"><polygon points="381.4,535.7 396.4,551.9 381.4,568.1 366.4,551.9" fill="#000080" stroke="#000080" stroke-width="1.1"/></g>
<text x="461.3" y="571.9" font-size="59">150 ppm</text>
<line x1="315.5" y1="623.6" x2="448.7" y2="623.6" stroke="#990000" stroke-width="3.9"/>
<polygon points="381.4,608.8 395.9,619.03 390.36,635.57 372.44,635.57 366.9,619.03" fill="#fff" stroke="#990000" stroke-width="1.1"/>
<g clip-path="url(#c95)"><polygon points="381.4,608.8 395.9,619.03 390.36,635.57 372.44,635.57 366.9,619.03" fill="#990000" stroke="#990000" stroke-width="1.1"/></g>
<text x="461.3" y="643.6" font-size="59">200 ppm</text></g>
<g stroke="#000" stroke-width="4"><rect x="256" y="32" width="1591.3" height="1167" fill="none" stroke="#000" stroke-width="4"/>
<line x1="231" y1="1115.2" x2="256" y2="1115.2"/>
<line x1="231" y1="948.47" x2="256" y2="948.47"/>
<line x1="231" y1="781.74" x2="256" y2="781.74"/>
<line x1="231" y1="615.01" x2="256" y2="615.01"/>
<line x1="231" y1="448.28" x2="256" y2="448.28"/>
<line x1="231" y1="281.55" x2="256" y2="281.55"/>
<line x1="231" y1="114.82" x2="256" y2="114.82"/>
<line x1="242" y1="1198.57" x2="256" y2="1198.57"/>
<line x1="242" y1="1031.84" x2="256" y2="1031.84"/>
<line x1="242" y1="865.11" x2="256" y2="865.11"/>
<line x1="242" y1="698.38" x2="256" y2="698.38"/>
<line x1="242" y1="531.65" x2="256" y2="531.65"/>
<line x1="242" y1="364.92" x2="256" y2="364.92"/>
<line x1="242" y1="198.19" x2="256" y2="198.19"/>
<line x1="242" y1="31.46" x2="256" y2="31.46"/>
<line x1="353.9" y1="1199" x2="353.9" y2="1224"/>
<line x1="547.96" y1="1199" x2="547.96" y2="1224"/>
<line x1="742.02" y1="1199" x2="742.02" y2="1224"/>
<line x1="936.08" y1="1199" x2="936.08" y2="1224"/>
<line x1="1130.14" y1="1199" x2="1130.14" y2="1224"/>
<line x1="1324.2" y1="1199" x2="1324.2" y2="1224"/>
<line x1="1518.26" y1="1199" x2="1518.26" y2="1224"/>
<line x1="1712.32" y1="1199" x2="1712.32" y2="1224"/>
<line x1="256.87" y1="1199" x2="256.87" y2="1213"/>
<line x1="450.93" y1="1199" x2="450.93" y2="1213"/>
<line x1="644.99" y1="1199" x2="644.99" y2="1213"/>
<line x1="839.05" y1="1199" x2="839.05" y2="1213"/>
<line x1="1033.11" y1="1199" x2="1033.11" y2="1213"/>
<line x1="1227.17" y1="1199" x2="1227.17" y2="1213"/>
<line x1="1421.23" y1="1199" x2="1421.23" y2="1213"/>
<line x1="1615.29" y1="1199" x2="1615.29" y2="1213"/>
<line x1="1809.35" y1="1199" x2="1809.35" y2="1213"/></g>
<g><text x="213.8" y="1131.4" font-size="62" text-anchor="end">0</text>
<text x="213.8" y="964.67" font-size="62" text-anchor="end">10</text>
<text x="213.8" y="797.94" font-size="62" text-anchor="end">20</text>
<text x="213.8" y="631.21" font-size="62" text-anchor="end">30</text>
<text x="213.8" y="464.48" font-size="62" text-anchor="end">40</text>
<text x="213.8" y="297.75" font-size="62" text-anchor="end">50</text>
<text x="213.8" y="131.02" font-size="62" text-anchor="end">60</text>
<text x="352.7" y="1287" font-size="62" text-anchor="middle">0</text>
<text x="546.76" y="1287" font-size="62" text-anchor="middle">100</text>
<text x="740.82" y="1287" font-size="62" text-anchor="middle">200</text>
<text x="934.88" y="1287" font-size="62" text-anchor="middle">300</text>
<text x="1128.94" y="1287" font-size="62" text-anchor="middle">400</text>
<text x="1323" y="1287" font-size="62" text-anchor="middle">500</text>
<text x="1517.06" y="1287" font-size="62" text-anchor="middle">600</text>
<text x="1711.12" y="1287" font-size="62" text-anchor="middle">700</text>
<text x="958" y="1376.1" font-size="73" font-style="italic" style="stroke-width:0.2px">t</text>
<text x="991.5" y="1376.1" font-size="69">(min)</text>
<g transform="rotate(-90)"><text x="-904.3" y="84.5" font-size="73" font-style="italic" style="stroke-width:0.2px">t</text><text x="-871.6" y="84.5" font-size="68">/</text><text x="-825.4" y="84.5" font-size="68" font-style="italic">Q</text><text x="-777.5" y="112.4" font-size="52" font-style="italic">t</text><text x="-747.8" y="84.5" font-size="68.8">(min mg/g)</text></g></g>
<g fill="#fff"><rect x="464.62" y="135.99" width="11.27" height="7.21"/><rect x="481.6" y="135.99" width="11.05" height="7.21"/><rect x="464.62" y="494.49" width="11.27" height="7.21"/><rect x="481.6" y="494.49" width="11.05" height="7.21"/><rect x="464.62" y="566.19" width="11.27" height="7.21"/><rect x="481.6" y="566.19" width="11.05" height="7.21"/><rect x="148.38" y="958.74" width="11.8" height="7.43"/><rect x="166.16" y="958.74" width="11.57" height="7.43"/><rect x="498.58" y="1281.07" width="11.8" height="7.43"/><rect x="516.36" y="1281.07" width="11.57" height="7.43"/></g>
</svg></body></html>
